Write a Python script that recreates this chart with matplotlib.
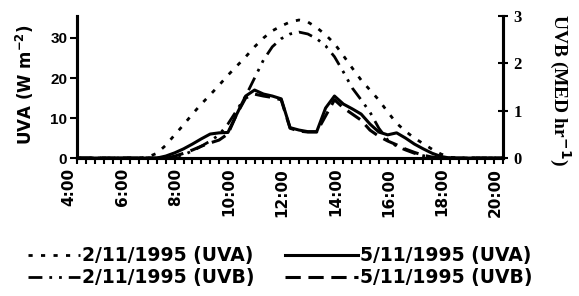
import numpy as np
import matplotlib.pyplot as plt
import matplotlib.transforms as mtransforms
from matplotlib.ticker import MultipleLocator

plt.rcParams['font.family'] = 'DejaVu Sans'
plt.rcParams['font.weight'] = 'bold'

# time axis: 4:00 to 20:00, every 20 minutes
times = [f"{4 + i // 3}:{(i % 3) * 20:02d}" for i in range(49)]
tick_labels = ["4:00", "6:00", "8:00", "10:00", "12:00", "14:00", "16:00", "18:00", "20:00"]

# UVA (W m-2), 2/11/1995, from 6:20 to 18:20
uva_0211_part = [0, 0.3, 1.2, 3.2, 5.8, 8.3, 11, 13.5, 15.8, 18.2, 20.7, 23, 25.3, 27.8,
                 30, 31.8, 33, 34, 34.5, 34, 32.6, 30.8, 28.6, 25.6, 22.5, 19.5, 17, 14.5,
                 11.5, 8.7, 6.7, 5, 3.6, 2.2, 1, 0.2, 0]
# UVA (W m-2), 5/11/1995, from 7:00 to 18:00
uva_0511_part = [0, 0.5, 1.3, 2.3, 3.5, 4.8, 6, 6.3, 6.4, 11, 15.5, 17, 16, 15.5, 14.8,
                 7.6, 7, 6.6, 6.6, 12.5, 15.5, 13.5, 12.3, 11, 8.5, 6.5, 5.8, 6.3, 5, 3.5,
                 2.3, 1.2, 0.4, 0]
# UVB (MED hr-1), 2/11/1995, from 7:20 to 17:40
uvb_0211_part = [0, 0.03, 0.07, 0.15, 0.25, 0.36, 0.49, 0.72, 1.01, 1.31, 1.69, 2.07,
                 2.35, 2.52, 2.62, 2.66, 2.62, 2.52, 2.37, 2.14, 1.82, 1.48, 1.23, 0.97,
                 0.63, 0.38, 0.25, 0.17, 0.10, 0.05, 0.02, 0]
# UVB (MED hr-1), 5/11/1995, from 7:20 to 17:40
uvb_0511_part = [0, 0.04, 0.10, 0.17, 0.25, 0.32, 0.38, 0.51, 0.93, 1.27, 1.35, 1.31,
                 1.28, 1.23, 0.63, 0.57, 0.55, 0.55, 0.89, 1.23, 1.06, 0.93, 0.80, 0.59,
                 0.46, 0.36, 0.28, 0.19, 0.12, 0.06, 0.02, 0]


def full_day(part, start):
    vals = np.zeros(len(times))
    vals[start:start + len(part)] = part
    return vals


uva_0211 = full_day(uva_0211_part, 7)
uva_0511 = full_day(uva_0511_part, 9)
uvb_0211 = full_day(uvb_0211_part, 10)
uvb_0511 = full_day(uvb_0511_part, 10)
x = np.arange(len(times))

fig = plt.figure(figsize=(5.79, 2.96), dpi=100)
ax = fig.add_axes([0.133, 0.466, 0.736, 0.48])
ax2 = ax.twinx()

l1, = ax.plot(x, uva_0211, color='black', lw=2.0, linestyle=(0, (1.5, 3)))
l3, = ax.plot(x, uva_0511, color='black', lw=2.2, linestyle='-')
l2, = ax2.plot(x, uvb_0211, color='black', lw=2.0, linestyle=(0, (5, 2.5, 1, 2.5, 1, 2.5)))
l4, = ax2.plot(x, uvb_0511, color='black', lw=2.2, linestyle=(0, (5, 2.5)))

ax.set_xlim(0, 48)
ax.set_ylim(0, 35.5)
ax2.set_ylim(0, 3)
ax.set_yticks([0, 10, 20, 30])
ax2.set_yticks([0, 1, 2, 3])
ax.set_xticks(x[::6])
ax.set_xticklabels(tick_labels, rotation=90, fontsize=11)
ax.set_yticklabels(['0', '10', '20', '30'], family='Liberation Sans', fontsize=11)
ax2.set_yticklabels(['0', '1', '2', '3'], family='Liberation Serif', fontsize=12)
ax.xaxis.set_minor_locator(MultipleLocator(1))
ax.tick_params(axis='x', which='both', direction='out', length=4, width=1.5, pad=3)
ax.tick_params(axis='y', direction='out', length=5, width=1.5, pad=2)
ax2.tick_params(axis='y', direction='inout', length=7, width=1.5, pad=4)

# shift the rotated time labels a little to the left, as in the original
shift = mtransforms.ScaledTranslation(-0.08, 0, fig.dpi_scale_trans)
for lab in ax.get_xticklabels():
    lab.set_transform(lab.get_transform() + shift)

for a in (ax, ax2):
    a.spines['top'].set_visible(False)
    a.spines['left'].set_linewidth(2.2)
    a.spines['right'].set_linewidth(2.2)
    a.spines['bottom'].set_linewidth(2.2)

fig.text(0.043, 0.713, 'UVA (W m$^{-2}$)', fontsize=12, rotation=90,
         ha='center', va='center')
fig.text(0.967, 0.696, 'UVB (MED hr$^{-1}$)', family='Liberation Serif', fontsize=14,
         rotation=270, ha='center', va='center')

fig.legend([l1, l2], ['2/11/1995 (UVA)', '2/11/1995 (UVB)'],
           loc='upper left', bbox_to_anchor=(0.048, 0.168), frameon=False,
           fontsize=13.5, handlelength=2.8, handletextpad=0.1,
           labelspacing=0.15, borderpad=0, borderaxespad=0)
fig.legend([l3, l4], ['5/11/1995 (UVA)', '5/11/1995 (UVB)'],
           loc='upper left', bbox_to_anchor=(0.492, 0.168), frameon=False,
           fontsize=13.5, handlelength=3.9, handletextpad=0.1,
           labelspacing=0.15, borderpad=0, borderaxespad=0)

fig.savefig('out.png', dpi=100)
